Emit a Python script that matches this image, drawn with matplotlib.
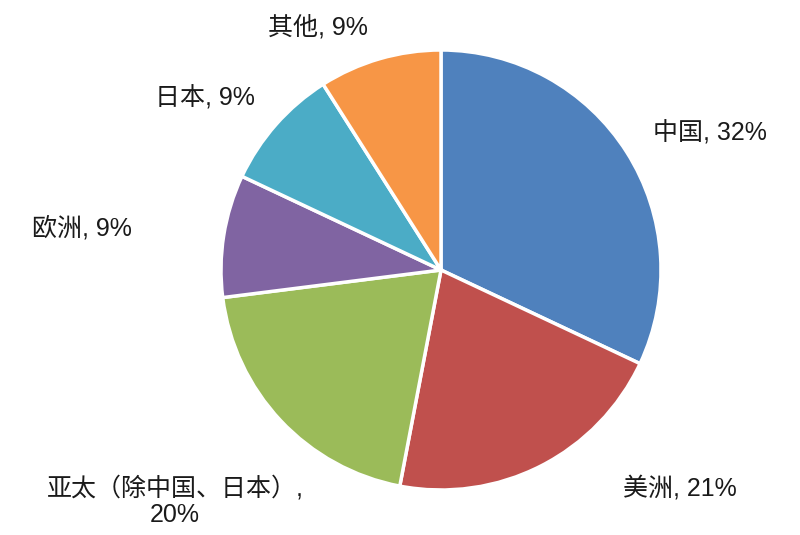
import matplotlib
matplotlib.use("Agg")
import matplotlib.pyplot as plt

plt.rcParams['font.family'] = ['Liberation Sans', 'Noto Sans CJK SC', 'DejaVu Sans']

categories = ['中国', '美洲', '亚太（除中国、日本）', '欧洲', '日本', '其他']
values = [32, 21, 20, 9, 9, 9]
colors = ['#4F81BD', '#C0504D', '#9BBB59', '#8064A2', '#4BACC6', '#F79646']
label_texts = ['中国, 32%', '美洲, 21%', '亚太（除中国、日本）,\n20%', '欧洲, 9%', '日本, 9%', '其他, 9%']
label_pos = [(1.223, 0.623), (1.086, -0.991), (-1.209, -1.05), (-1.632, 0.191), (-1.073, 0.782), (-0.559, 1.105)]

fig = plt.figure(figsize=(8, 5.35), dpi=100)
ax = fig.add_axes([0, 0, 1, 1])
ax.pie(values, colors=colors, startangle=90, counterclock=False, radius=1.0,
       wedgeprops=dict(edgecolor='white', linewidth=2.5))
ax.set_xlim(-441/220, (800-441)/220)
ax.set_ylim((270-535)/220, 270/220)
ax.set_aspect('equal')
ax.axis('off')
for txt, (x, y) in zip(label_texts, label_pos):
    ax.text(x, y, txt, ha='center', va='center', fontsize=18, color='#1a1a1a', linespacing=1.15)

fig.savefig('out.png', dpi=100)
